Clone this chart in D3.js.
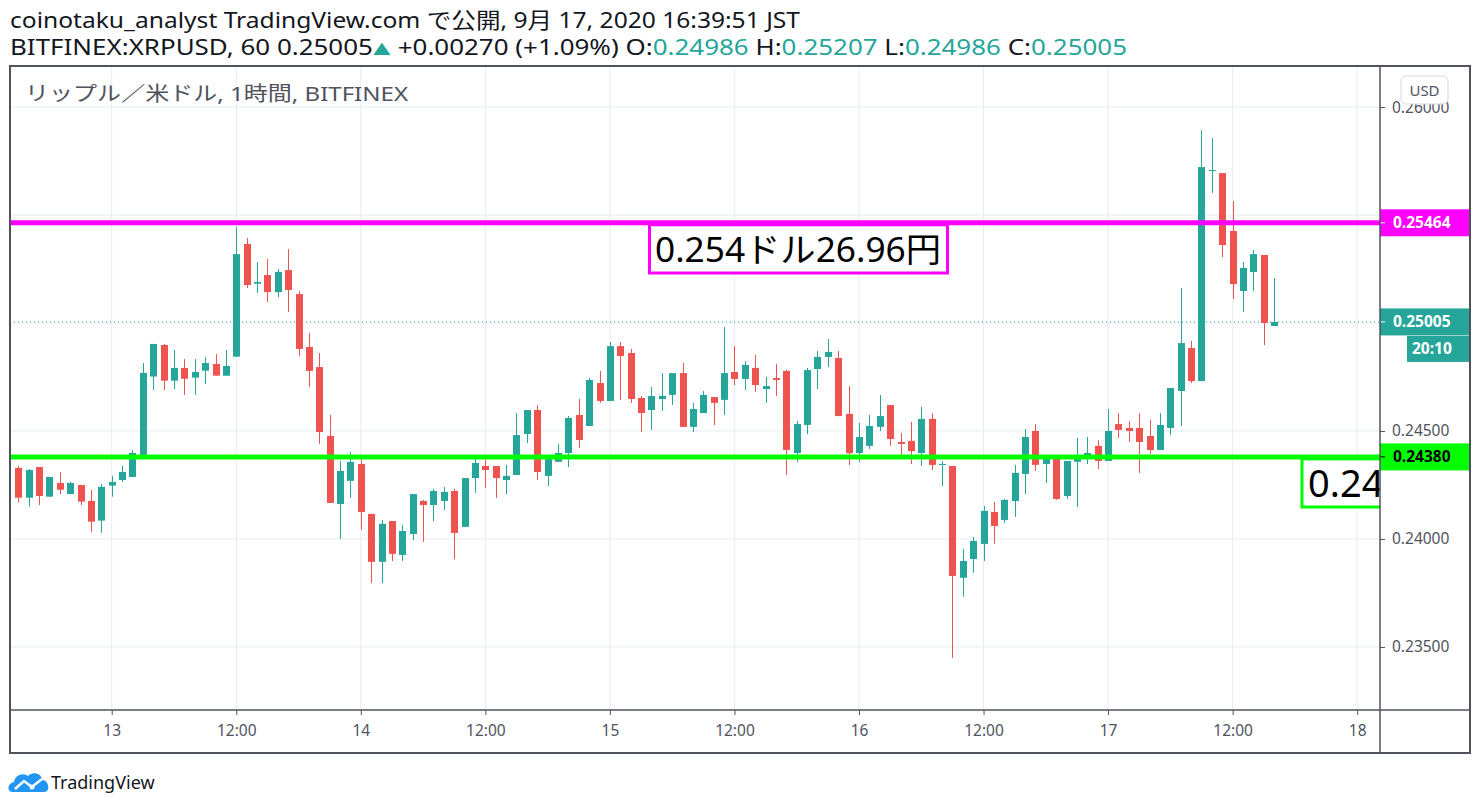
<!DOCTYPE html>
<html>
<head>
<meta charset="utf-8">
<script src="https://cdn.jsdelivr.net/npm/d3@7"></script>
<style>
  body { margin: 0; background: #fff; }
  text { font-family: "Noto Sans", "Noto Sans CJK JP", sans-serif; }
</style>
</head>
<body>
<svg id="chart"></svg>
<script>
// hourly candles, XRPUSD Bitfinex, first candle Sep 12 15:00 JST
const firstCandle = Date.UTC(2020, 8, 12, 15);

const opens = [
  0.24329, 0.24191, 0.24333, 0.24196, 0.24259, 0.24208, 0.24250, 0.24176, 0.24085, 0.24247,
  0.24273, 0.24287, 0.24389, 0.24752, 0.24898, 0.24733, 0.24792, 0.24747, 0.24779, 0.24810,
  0.24756, 0.24844, 0.25366, 0.25182, 0.25222, 0.25143, 0.25245, 0.25134, 0.24889, 0.24796,
  0.24477, 0.24162, 0.24269, 0.24347, 0.24116, 0.23894, 0.24083, 0.23926, 0.24023, 0.24176,
  0.24157, 0.24176, 0.24222, 0.24056, 0.24282, 0.24338, 0.24338, 0.24273, 0.24296, 0.24486,
  0.24597, 0.24292, 0.24357, 0.24398, 0.24574, 0.24523, 0.24722, 0.24639, 0.24893, 0.24861,
  0.24653, 0.24597, 0.24648, 0.24667, 0.24768, 0.24519, 0.24583, 0.24657, 0.24644, 0.24773,
  0.24741, 0.24792, 0.24694, 0.24745, 0.24778, 0.24398, 0.24528, 0.24787, 0.24843, 0.24838,
  0.24579, 0.24398, 0.24431, 0.24519, 0.24620, 0.24449, 0.24454, 0.24398, 0.24556, 0.24344,
  0.24338, 0.23820, 0.23907, 0.23977, 0.24125, 0.24088, 0.24176, 0.24301, 0.24500, 0.24347,
  0.24373, 0.24199, 0.24357, 0.24381, 0.24431, 0.24361, 0.24532, 0.24514, 0.24514, 0.24477,
  0.24412, 0.24514, 0.24685, 0.24884, 0.24731, 0.25705, 0.25694, 0.25426, 0.25148, 0.25236,
  0.25315, 0.24986
];
const highs = [
  0.24338, 0.24324, 0.24333, 0.24287, 0.24310, 0.24264, 0.24250, 0.24227, 0.24255, 0.24292,
  0.24338, 0.24412, 0.24815, 0.24903, 0.24903, 0.24875, 0.24833, 0.24833, 0.24843, 0.24856,
  0.24875, 0.25445, 0.25393, 0.25282, 0.25296, 0.25250, 0.25342, 0.25148, 0.24954, 0.24861,
  0.24574, 0.24361, 0.24403, 0.24370, 0.24116, 0.24088, 0.24083, 0.24065, 0.24208, 0.24181,
  0.24232, 0.24241, 0.24232, 0.24282, 0.24370, 0.24370, 0.24338, 0.24343, 0.24583, 0.24597,
  0.24620, 0.24370, 0.24440, 0.24569, 0.24648, 0.24745, 0.24778, 0.24912, 0.24912, 0.24880,
  0.24662, 0.24704, 0.24768, 0.24768, 0.24815, 0.24630, 0.24685, 0.24657, 0.24981, 0.24893,
  0.24824, 0.24852, 0.24750, 0.24810, 0.24782, 0.24546, 0.24792, 0.24870, 0.24926, 0.24870,
  0.24708, 0.24537, 0.24574, 0.24667, 0.24620, 0.24491, 0.24542, 0.24611, 0.24583, 0.24361,
  0.24338, 0.23954, 0.24009, 0.24153, 0.24171, 0.24185, 0.24343, 0.24509, 0.24532, 0.24373,
  0.24373, 0.24361, 0.24468, 0.24472, 0.24458, 0.24602, 0.24583, 0.24546, 0.24583, 0.24551,
  0.24583, 0.24699, 0.25162, 0.24917, 0.25893, 0.25856, 0.25694, 0.25565, 0.25282, 0.25338,
  0.25315, 0.25207
];
const lows = [
  0.24168, 0.24150, 0.24157, 0.24196, 0.24208, 0.24208, 0.24157, 0.24032, 0.24028, 0.24196,
  0.24264, 0.24287, 0.24389, 0.24690, 0.24690, 0.24694, 0.24667, 0.24667, 0.24718, 0.24756,
  0.24756, 0.24844, 0.25162, 0.25139, 0.25097, 0.25120, 0.25051, 0.24847, 0.24704, 0.24440,
  0.24167, 0.24000, 0.24190, 0.24042, 0.23796, 0.23796, 0.23898, 0.23898, 0.23995, 0.23986,
  0.24083, 0.24134, 0.23907, 0.24056, 0.24213, 0.24236, 0.24190, 0.24208, 0.24296, 0.24444,
  0.24273, 0.24245, 0.24357, 0.24333, 0.24421, 0.24523, 0.24630, 0.24639, 0.24644, 0.24630,
  0.24495, 0.24505, 0.24593, 0.24620, 0.24519, 0.24495, 0.24583, 0.24528, 0.24574, 0.24713,
  0.24690, 0.24681, 0.24630, 0.24662, 0.24296, 0.24357, 0.24486, 0.24694, 0.24796, 0.24569,
  0.24343, 0.24357, 0.24417, 0.24500, 0.24431, 0.24389, 0.24347, 0.24338, 0.24319, 0.24245,
  0.23449, 0.23732, 0.23843, 0.23898, 0.23977, 0.24074, 0.24102, 0.24208, 0.24315, 0.24259,
  0.24181, 0.24185, 0.24148, 0.24347, 0.24324, 0.24361, 0.24468, 0.24449, 0.24306, 0.24394,
  0.24412, 0.24481, 0.24523, 0.24722, 0.24731, 0.25602, 0.25305, 0.25111, 0.25051, 0.25148,
  0.24898, 0.24986
];
const closes = [
  0.24191, 0.24319, 0.24199, 0.24287, 0.24228, 0.24259, 0.24173, 0.24080, 0.24241, 0.24264,
  0.24310, 0.24398, 0.24769, 0.24903, 0.24733, 0.24792, 0.24742, 0.24773, 0.24815, 0.24756,
  0.24801, 0.25319, 0.25176, 0.25190, 0.25143, 0.25236, 0.25153, 0.24880, 0.24778, 0.24495,
  0.24167, 0.24315, 0.24357, 0.24125, 0.23894, 0.24070, 0.23931, 0.24037, 0.24208, 0.24157,
  0.24222, 0.24218, 0.24028, 0.24282, 0.24352, 0.24319, 0.24282, 0.24292, 0.24481, 0.24597,
  0.24310, 0.24370, 0.24398, 0.24560, 0.24458, 0.24736, 0.24639, 0.24893, 0.24847, 0.24648,
  0.24583, 0.24662, 0.24662, 0.24768, 0.24519, 0.24602, 0.24667, 0.24630, 0.24768, 0.24741,
  0.24806, 0.24713, 0.24708, 0.24736, 0.24412, 0.24532, 0.24782, 0.24843, 0.24866, 0.24569,
  0.24397, 0.24472, 0.24523, 0.24569, 0.24463, 0.24440, 0.24407, 0.24556, 0.24343, 0.24347,
  0.23829, 0.23898, 0.23991, 0.24130, 0.24060, 0.24181, 0.24306, 0.24472, 0.24343, 0.24373,
  0.24185, 0.24361, 0.24381, 0.24398, 0.24361, 0.24500, 0.24505, 0.24500, 0.24449, 0.24412,
  0.24528, 0.24699, 0.24907, 0.24731, 0.25722, 0.25708, 0.25361, 0.25180, 0.25255, 0.25319,
  0.25000, 0.25005
];

const priceTicks = [0.235, 0.24, 0.245, 0.25, 0.255, 0.26];
const resistance = 0.25464;
const support = 0.24380;
const lastPrice = 0.25005;
const countdown = "20:10";
const noteText = "0.254ドル26.96円";
const supportNote = "0.24";

const upColor = "#26a69a", downColor = "#ef5350";
const axisColor = "#50535e", gridColor = "#e6ecf2";

const W = 1481, H = 809;
const plot = { left: 10, right: 1380, top: 66, bottom: 710 };
const frame = { right: 1470, bottom: 753 };

const candles = opens.map((o, i) => ({
  t: d3.utcHour.offset(new Date(firstCandle), i),
  o: o, h: highs[i], l: lows[i], c: closes[i]
}));

const svg = d3.select("#chart").attr("width", W).attr("height", H);

const x = d3.scaleUtc()
    .domain([d3.utcMinute.offset(candles[0].t, -48),
             d3.utcMinute.offset(candles[0].t, 131 * 60 + 12)])
    .range([plot.left, plot.right]);
const y = d3.scaleLinear()
    .domain([0.23208, 0.26190])
    .range([plot.bottom, plot.top]);

svg.append("defs").append("clipPath").attr("id", "plotClip")
  .append("rect")
    .attr("x", plot.left).attr("y", plot.top)
    .attr("width", plot.right - plot.left).attr("height", plot.bottom - plot.top);

// header
svg.append("text")
    .attr("x", 10).attr("y", 28)
    .attr("font-size", 21.5).attr("fill", "#131722")
    .attr("textLength", 790).attr("lengthAdjust", "spacingAndGlyphs")
    .text("coinotaku_analyst TradingView.com で公開, 9月 17, 2020 16:39:51 JST");

const hdr = svg.append("text")
    .attr("x", 10).attr("y", 55)
    .attr("font-size", 21.5).attr("fill", "#131722")
    .attr("textLength", 1117).attr("lengthAdjust", "spacingAndGlyphs");
[
  ["BITFINEX:XRPUSD, 60 0.25005", "#131722"],
  ["▲", upColor],
  [" +0.00270 (+1.09%) O:", "#131722"],
  ["0.24986", upColor],
  [" H:", "#131722"],
  ["0.25207", upColor],
  [" L:", "#131722"],
  ["0.24986", upColor],
  [" C:", "#131722"],
  ["0.25005", upColor]
].forEach(([s, col]) => hdr.append("tspan").attr("fill", col)
    .attr("font-size", s === "▲" ? 15 : 21.5).text(s));

// grid
const timeTicks = x.ticks(d3.utcHour.every(12));
svg.append("g").selectAll("line.vg")
  .data(timeTicks).enter().append("line")
    .attr("x1", d => x(d)).attr("x2", d => x(d))
    .attr("y1", plot.top).attr("y2", plot.bottom)
    .attr("stroke", gridColor).attr("stroke-width", 1);
svg.append("g").selectAll("line.hg")
  .data(priceTicks).enter().append("line")
    .attr("x1", plot.left).attr("x2", plot.right)
    .attr("y1", d => y(d)).attr("y2", d => y(d))
    .attr("stroke", gridColor).attr("stroke-width", 1);

svg.append("text")
    .attr("x", 25).attr("y", 101)
    .attr("font-size", 20).attr("fill", axisColor)
    .attr("textLength", 383).attr("lengthAdjust", "spacingAndGlyphs")
    .text("リップル／米ドル, 1時間, BITFINEX");

const plotG = svg.append("g").attr("clip-path", "url(#plotClip)");

// last price dotted line
plotG.append("line")
    .attr("x1", plot.left).attr("x2", plot.right)
    .attr("y1", y(lastPrice)).attr("y2", y(lastPrice))
    .attr("stroke", upColor).attr("stroke-width", 1)
    .attr("stroke-dasharray", "1,3");

// candles
const bodyW = 7;
const cg = plotG.append("g").selectAll("g")
  .data(candles).enter().append("g");
cg.append("line")
    .attr("x1", d => Math.round(x(d.t)) + 0.5).attr("x2", d => Math.round(x(d.t)) + 0.5)
    .attr("y1", d => y(d.h)).attr("y2", d => y(d.l))
    .attr("stroke", d => d.c >= d.o ? upColor : downColor)
    .attr("stroke-width", 1);
cg.append("rect")
    .attr("x", d => Math.round(x(d.t)) - 3)
    .attr("width", bodyW)
    .attr("y", d => y(Math.max(d.o, d.c)))
    .attr("height", d => Math.max(1, Math.abs(y(d.o) - y(d.c))))
    .attr("fill", d => d.c >= d.o ? upColor : downColor);

// horizontal levels
plotG.append("line")
    .attr("x1", plot.left).attr("x2", plot.right)
    .attr("y1", y(resistance)).attr("y2", y(resistance))
    .attr("stroke", "#ff00ff").attr("stroke-width", 5);
plotG.append("line")
    .attr("x1", plot.left).attr("x2", plot.right)
    .attr("y1", y(support)).attr("y2", y(support))
    .attr("stroke", "#00ff00").attr("stroke-width", 5);

// notes
plotG.append("rect")
    .attr("x", 649.5).attr("y", y(resistance) + 2)
    .attr("width", 298).attr("height", 272 - y(resistance) - 1)
    .attr("fill", "#fff").attr("stroke", "#ff00ff").attr("stroke-width", 3);
plotG.append("text")
    .attr("x", 655).attr("y", 262)
    .attr("font-size", 34).attr("fill", "#000")
    .attr("textLength", 286).attr("lengthAdjust", "spacingAndGlyphs")
    .text(noteText);

plotG.append("rect")
    .attr("x", 1302).attr("y", y(support) + 2)
    .attr("width", 120).attr("height", 507 - y(support) - 2)
    .attr("fill", "#fff").attr("stroke", "#00ff00").attr("stroke-width", 3);
plotG.append("text")
    .attr("x", 1308).attr("y", 497)
    .attr("font-size", 38).attr("fill", "#000")
    .text(supportNote);

// axes; scale labels hidden where a coloured price label sits
const marked = [resistance, lastPrice, support];
const yAxis = d3.axisRight(y).tickValues(priceTicks)
    .tickFormat(d => marked.some(m => Math.abs(y(m) - y(d)) < 20) ? "" : d3.format(".5f")(d))
    .tickSize(5).tickPadding(7);
const yg = svg.append("g").attr("transform", `translate(${plot.right},0)`).call(yAxis);
yg.select(".domain").remove();
yg.selectAll("line").attr("stroke", axisColor);
yg.selectAll("text").attr("fill", axisColor).attr("font-size", 15.5)
    .attr("font-family", "'Noto Sans', sans-serif");

const xAxis = d3.axisBottom(x).tickValues(timeTicks)
    .tickFormat(d => d.getUTCHours() === 0 ? String(d.getUTCDate()) : "12:00")
    .tickSize(5).tickPadding(10);
const xg = svg.append("g").attr("transform", `translate(0,${plot.bottom})`).call(xAxis);
xg.select(".domain").remove();
xg.selectAll("line").attr("stroke", axisColor);
xg.selectAll("text").attr("fill", axisColor).attr("font-size", 15.5)
    .attr("font-family", "'Noto Sans', sans-serif");

// price labels on the scale
function priceLabel(fill, txtCol, yTop, h, label, left) {
  svg.append("rect")
      .attr("x", left).attr("y", yTop)
      .attr("width", frame.right - left).attr("height", h)
      .attr("fill", fill);
  svg.append("text")
      .attr("x", left === plot.right ? 1393 : 1412).attr("y", yTop + h / 2 + 5.5)
      .attr("font-size", 15.5).attr("font-weight", "bold").attr("fill", txtCol)
      .text(label);
}
priceLabel("#ff00ff", "#fff", y(resistance) - 13.5, 27, d3.format(".5f")(resistance), plot.right);
priceLabel(upColor, "#fff", y(lastPrice) - 13.5, 27, d3.format(".5f")(lastPrice), plot.right);
priceLabel(upColor, "#fff", y(lastPrice) + 14, 26, countdown, 1407);
priceLabel("#00ff00", "#000", y(support) - 13.5, 27, d3.format(".5f")(support), plot.right);
svg.selectAll("line.tk")
  .data(marked).enter().append("line")
    .attr("x1", plot.right).attr("x2", plot.right + 5)
    .attr("y1", d => y(d)).attr("y2", d => y(d))
    .attr("stroke", d => d === support ? "#000" : "#fff");

// USD badge
svg.append("rect")
    .attr("x", 1401).attr("y", 76).attr("width", 47).attr("height", 28).attr("rx", 5)
    .attr("fill", "#fff").attr("stroke", "#d6d8de");
svg.append("text")
    .attr("x", 1424.5).attr("y", 96).attr("text-anchor", "middle")
    .attr("font-size", 15).attr("fill", axisColor).text("USD");

// frame
svg.append("line").attr("x1", plot.left).attr("x2", frame.right)
    .attr("y1", plot.bottom).attr("y2", plot.bottom)
    .attr("stroke", axisColor).attr("stroke-width", 1.5);
svg.append("line").attr("x1", plot.right).attr("x2", plot.right)
    .attr("y1", plot.top).attr("y2", frame.bottom)
    .attr("stroke", axisColor).attr("stroke-width", 1.5);
svg.append("rect")
    .attr("x", plot.left).attr("y", plot.top)
    .attr("width", frame.right - plot.left).attr("height", frame.bottom - plot.top)
    .attr("fill", "none").attr("stroke", axisColor).attr("stroke-width", 2);

// footer logo
const logo = svg.append("g").attr("transform", "translate(9,770)");
logo.append("path")
    .attr("d", "M3,22 C-2,22 -2,13 5,12 C6,5 14,2 19,6 C23,1 33,3 33,10 C40,10 42,22 35,22 Z")
    .attr("fill", "#2196f3");
logo.append("path")
    .attr("d", "M6,19 L15,11 L23,17 L33,9")
    .attr("fill", "none").attr("stroke", "#fff").attr("stroke-width", 2.5);
logo.append("circle").attr("cx", 23).attr("cy", 17).attr("r", 2.5).attr("fill", "#fff");
svg.append("text")
    .attr("x", 51).attr("y", 789)
    .attr("font-size", 18).attr("fill", "#131722")
    .text("TradingView");
</script>
</body>
</html>
